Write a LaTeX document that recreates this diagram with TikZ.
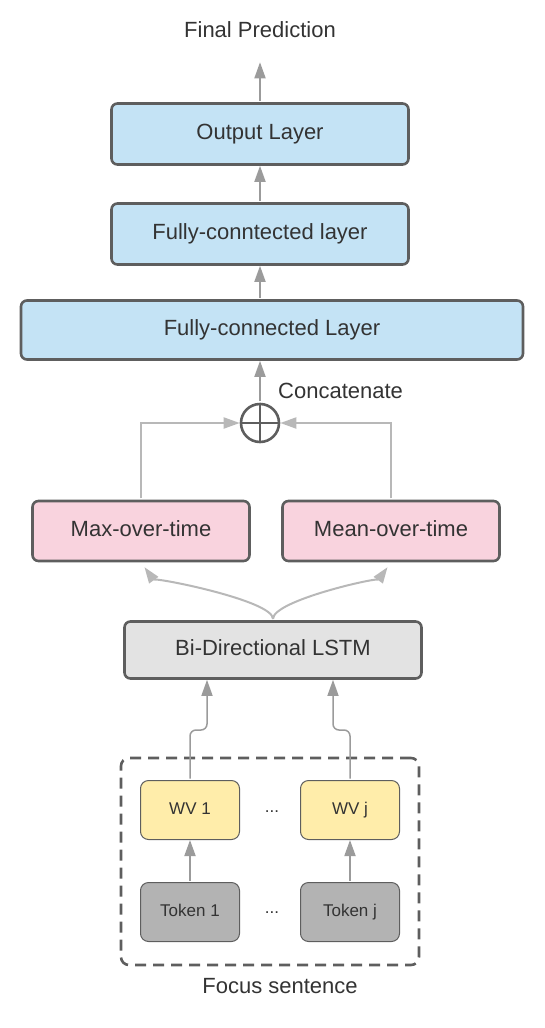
\documentclass[tikz,border=0pt]{standalone}
\usepackage{fontspec}
\setmainfont{Liberation Sans}
\usetikzlibrary{arrows.meta}
\definecolor{layerblue}{HTML}{C4E3F5}
\definecolor{poolpink}{HTML}{F9D3DE}
\definecolor{lstmgray}{HTML}{E3E3E3}
\definecolor{wvyellow}{HTML}{FFEDAA}
\definecolor{tokengray}{HTML}{B3B3B3}
\definecolor{edge}{HTML}{5E5E5E}
\definecolor{ink}{HTML}{333333}
\definecolor{arrowgray}{HTML}{9B9B9B}
\definecolor{linkgray}{HTML}{B8B8B8}

\begin{document}
\begin{tikzpicture}[x=1pt,y=1pt,
	big/.style = {text=ink, font=\fontsize{22}{26}\selectfont},
	box/.style = {big, draw=edge, line width=2.6pt, rounded corners=6pt, text height=16pt, text depth=4.6pt},
	small/.style = {draw=edge, line width=1pt, rounded corners=8pt, minimum width=99pt, minimum height=59pt, text height=12.4pt, text depth=3.6pt, text=ink, font=\fontsize{17}{20}\selectfont},
	arr/.style = {draw=arrowgray, line width=1.8pt, shorten <=1.3pt, -{Triangle[length=16pt,width=11pt]}},
	link/.style = {draw=linkgray, line width=2pt, shorten <=1.3pt, -{Triangle[length=16pt,width=11pt]}}]
				\useasboundingbox (0,0) rectangle (545,-1028);
				\node[big, inner sep=0pt] (pred) at (260,-30) {Final Prediction};
				\begin{scope}[every node/.style={box}]
					\node[fill=layerblue, minimum width=297pt, minimum height=61pt] (out) at (260,-134) {Output Layer};
					\node[fill=layerblue, minimum width=297pt, minimum height=61pt] (fc2) at (260,-234) {Fully-conntected layer};
					\node[fill=layerblue, minimum width=502pt, minimum height=59pt] (fc1) at (272,-330) {Fully-connected Layer};
					\node[fill=poolpink, minimum width=217pt, minimum height=60pt] (maxp) at (141,-531) {Max-over-time};
					\node[fill=poolpink, minimum width=217pt, minimum height=60pt] (meanp) at (391,-531) {Mean-over-time};
					\node[fill=lstmgray, minimum width=297pt, minimum height=57pt] (lstm) at (273,-650) {Bi-Directional LSTM};
				\end{scope}
				\node[circle, draw=edge, line width=2.6pt, minimum size=38pt, inner sep=0pt] (cat) at (260,-423) {};
				\draw[edge, line width=2.6pt] (cat.north) -- (cat.south) (cat.west) -- (cat.east);
				\node[big, anchor=west, inner sep=0pt] (catlabel) at (278,-391) {Concatenate};
				\node[draw=edge, line width=2.6pt, dash pattern=on 11pt off 7pt, rounded corners=8pt, minimum width=298pt, minimum height=207pt] (frame) at (270,-861.5) {};
				\begin{scope}[every node/.style={small}]
					\node[fill=wvyellow] (wv1) at (190,-810) {WV 1};
					\node[fill=wvyellow] (wvj) at (350,-810) {WV j};
					\node[fill=tokengray] (tok1) at (190,-912) {Token 1};
					\node[fill=tokengray] (tokj) at (350,-912) {Token j};
				\end{scope}
				\node[text=ink, font=\fontsize{17}{20}\selectfont] (dots1) at (272,-812) {...};
				\node[text=ink, font=\fontsize{17}{20}\selectfont] (dots2) at (272,-913) {...};
				\node[big, inner sep=0pt] (focus) at (280,-986) {Focus sentence};
				\draw[arr, shorten >=24pt] (out) -- (pred);
				\draw[arr] (fc2) -- (out);
				\draw[arr] (fc1.north -| fc2) -- (fc2);
				\draw[arr] (cat) -- (fc1.south -| cat);
				\draw[link] (maxp.north) |- (cat.west);
				\draw[link] (meanp.north) |- (cat.east);
				\draw[link, shorten >=6pt] (lstm.north) .. controls +(0,20) and +(10,-14) .. (maxp.south);
				\draw[link, shorten >=6pt] (lstm.north) .. controls +(0,20) and +(-10,-14) .. (meanp.south);
				\draw[arr, line width=1.5pt, rounded corners=6pt] (wv1.north) -- ++(0,50) -| ([xshift=-66pt]lstm.south);
				\draw[arr, line width=1.5pt, rounded corners=6pt] (wvj.north) -- ++(0,50) -| ([xshift=60pt]lstm.south);
				\draw[arr] (tok1) -- (wv1);
				\draw[arr] (tokj) -- (wvj);
			\end{tikzpicture}
\end{document}
